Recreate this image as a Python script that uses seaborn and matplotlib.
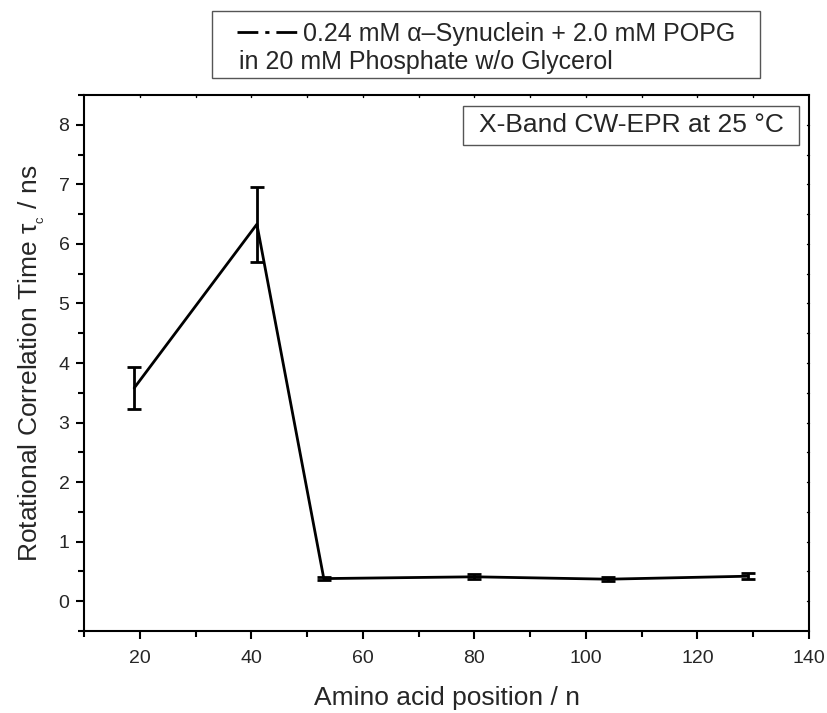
import numpy as np
import pandas as pd
import seaborn as sns
import matplotlib.pyplot as plt
from matplotlib.lines import Line2D
from matplotlib.patches import Rectangle
from matplotlib.ticker import MultipleLocator

# data
positions = [19, 41, 53, 80, 104, 129]
tau_c = [3.58, 6.33, 0.38, 0.41, 0.37, 0.42]
tau_err = [0.35, 0.63, 0.03, 0.04, 0.03, 0.05]

legend_line1 = "0.24 mM \u03b1\u2013Synuclein + 2.0 mM POPG"
legend_line2 = "in 20 mM Phosphate w/o Glycerol"
annotation = "X-Band CW-EPR at 25 \u00b0C"

df = pd.DataFrame({"position": positions, "tau": tau_c, "err": tau_err})

sns.set_theme(style="ticks")
plt.rcParams["font.family"] = ["Liberation Sans", "DejaVu Sans"]
plt.rcParams["mathtext.fontset"] = "custom"
plt.rcParams["mathtext.rm"] = "Liberation Sans"
plt.rcParams["mathtext.it"] = "Liberation Sans"

W, H = 827, 713


def fx(x):
    return x / W


def fy(y):
    return 1 - y / H


fig = plt.figure(figsize=(W / 100, H / 100), dpi=100)
ax = fig.add_axes([fx(84), fy(631), (809 - 84) / W, (631 - 95) / H])

sns.lineplot(data=df, x="position", y="tau", color="black", linewidth=2, ax=ax)
ax.errorbar(df["position"], df["tau"], yerr=df["err"], fmt="none",
            ecolor="black", elinewidth=2, capsize=5, capthick=2)

ax.set_xlim(10, 140)
ax.set_ylim(-0.5, 8.5)
ax.xaxis.set_major_locator(MultipleLocator(20))
ax.xaxis.set_minor_locator(MultipleLocator(10))
ax.yaxis.set_major_locator(MultipleLocator(1))
ax.yaxis.set_minor_locator(MultipleLocator(0.5))
ax.set_yticks(range(0, 9))
ax.tick_params(which="major", direction="out", length=5.5, width=1.5, labelsize=14, color="black")
ax.tick_params(which="minor", direction="out", length=4, width=1.5, color="black")
ax.tick_params(axis="x", which="major", pad=8)
ax.tick_params(axis="y", which="major", pad=5)
for s in ax.spines.values():
    s.set_linewidth(1.5)
    s.set_color("black")

# tiny inner ticks on the top and right axes
for v in np.arange(20, 140, 10):
    ax.plot([v, v], [8.5, 8.47], color="black", lw=1, clip_on=False)
for v in np.arange(0, 8.5, 0.5):
    ax.plot([139.6, 140], [v, v], color="black", lw=1, clip_on=False)

ax.set_xlabel("Amino acid position / n", fontsize=19, labelpad=14)
ax.set_ylabel(r"Rotational Correlation Time $\tau_{_c}$ / ns", fontsize=19, labelpad=8)

# Origin-style legend box above the axes
fig.patches.append(Rectangle((fx(212), fy(78)), (760 - 212) / W, 67 / H,
                             transform=fig.transFigure, fc="white", ec="#555555", lw=1))
fig.lines.append(Line2D([fx(237), fx(298)], [fy(32), fy(32)], transform=fig.transFigure,
                        color="black", lw=2, linestyle=(0, (7.5, 2.5, 1.5, 2.5))))
fig.text(fx(303), fy(41), legend_line1, fontsize=18, va="baseline", ha="left")
fig.text(fx(239), fy(69), legend_line2, fontsize=18, va="baseline", ha="left")

# annotation box
fig.patches.append(Rectangle((fx(463), fy(145)), (799 - 463) / W, 39 / H,
                             transform=fig.transFigure, fc="white", ec="#555555", lw=1))
fig.text(fx(631), fy(125.5), annotation, fontsize=19, ha="center", va="center")

fig.savefig("out.png", dpi=100)
